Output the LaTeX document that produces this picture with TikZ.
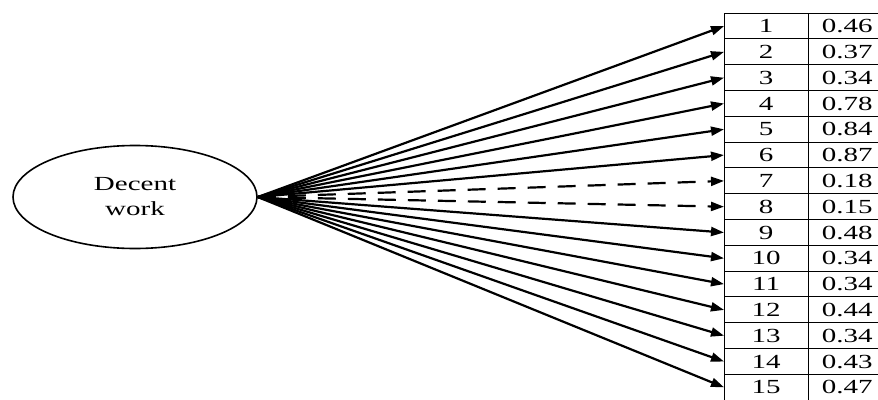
\documentclass[tikz,border=0pt]{standalone}
\usepackage{fontspec}
\usepackage{graphicx}
\setmainfont{Liberation Serif}
\usetikzlibrary{arrows.meta,shapes.geometric}
\newcommand\widetext[1]{\scalebox{1.45}[1]{#1}}
\begin{document}
\begin{tikzpicture}[x=1pt,y=-1pt,
  load/.style={-{Triangle[length=13pt,width=9pt]}, line width=2.2pt},
  cell/.style={minimum width=84pt, minimum height=25.8pt, inner sep=0pt, anchor=north west, font=\fontsize{20}{21}\selectfont}]
\useasboundingbox (0,0) rectangle (878,399);
\node[draw, line width=1.6pt, ellipse, minimum width=244pt, minimum height=103pt, align=center, font=\fontsize{20}{25}\selectfont] (dw) at (135,197) {\widetext{Decent}\\\widetext{work}};
% table of loadings
\foreach \v [count=\i] in {0.46,0.37,0.34,0.78,0.84,0.87,0.18,0.15,0.48,0.34,0.34,0.44,0.34,0.43,0.47} {
  \node[cell] (n\i) at (724,{13+(\i-1)*25.8}) {\widetext{\i}};
  \node[cell, minimum width=78pt] (v\i) at (808,{13+(\i-1)*25.8}) {\widetext{\v}};
  \draw[line width=1pt] (n\i.north west) -- (v\i.north east);
}
\draw[line width=1pt] (n1.north west) -- (n15.south west);
\draw[line width=1pt] (n1.north east) -- (n15.south east);
% arrows
\foreach \i in {1,...,6,9,10,...,15}
  \draw[load] (dw.east) -- (n\i.west);
\foreach \i in {7,8}
  \draw[load, dash pattern=on 18pt off 12pt] (dw.east) -- (n\i.west);
\end{tikzpicture}
\end{document}
